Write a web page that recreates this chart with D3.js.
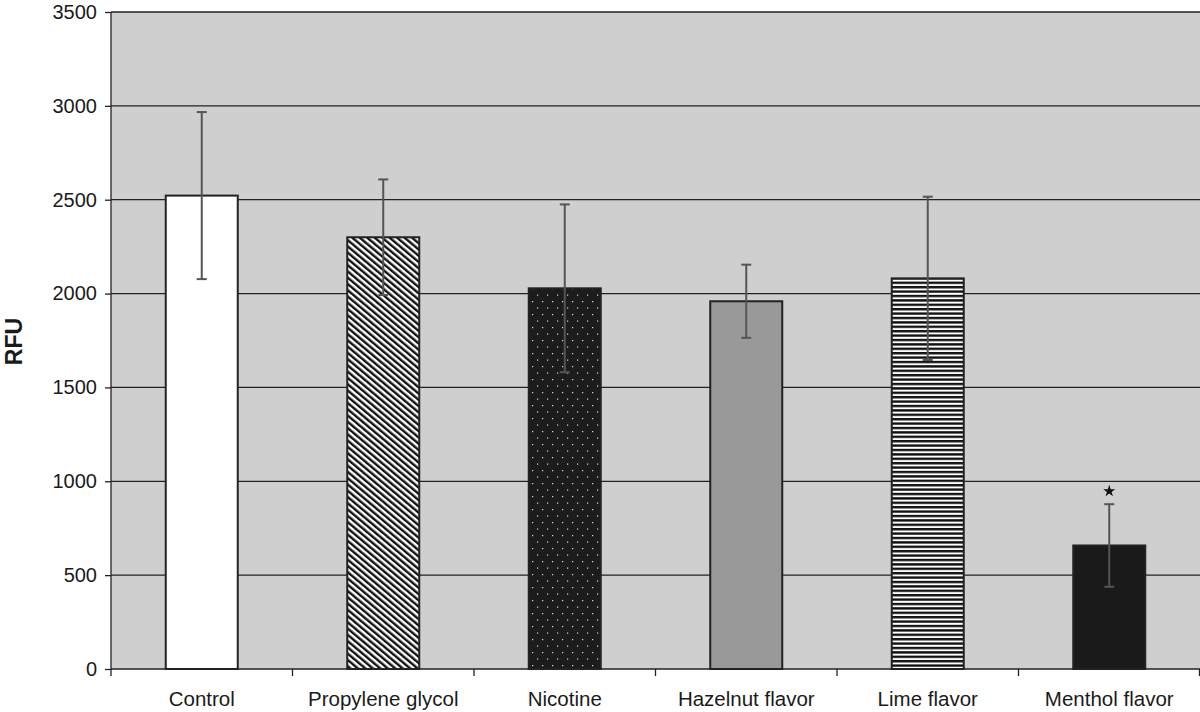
<!DOCTYPE html>
<html><head><meta charset="utf-8">
<script src="https://cdn.jsdelivr.net/npm/d3@7"></script>
<style>body{margin:0;background:#fff;}svg{display:block;font-family:"Liberation Sans",Arial,sans-serif;}</style>
</head><body>
<svg id="chart" width="1200" height="712"></svg>
<script>
const categories = ["Control","Propylene glycol","Nicotine","Hazelnut flavor","Lime flavor","Menthol flavor"];
const values = [2522, 2300, 2028, 1959, 2081, 658];
const errors = [445, 308, 447, 195, 435, 220];
const significant = [false,false,false,false,false,true];
const yTicks = [0,500,1000,1500,2000,2500,3000,3500];
const fills = ["#ffffff","url(#diag)","url(#dots)","#999999","url(#hstripe)","#1a1a1a"];

const svg = d3.select("#chart");
const m = {left:111, right:0, top:12, bottom:43};
const W = 1200, H = 712;
const x = d3.scaleBand().domain(categories).range([m.left, W - m.right]).paddingInner(0).paddingOuter(0);
const y = d3.scaleLinear().domain([0,3500]).range([H - m.bottom, m.top]);

const defs = svg.append("defs");
const pd = defs.append("pattern").attr("id","diag").attr("patternUnits","userSpaceOnUse")
  .attr("width",4.8).attr("height",10).attr("patternTransform","rotate(-50)");
pd.append("rect").attr("width",4.8).attr("height",10).attr("fill","#fff");
pd.append("rect").attr("width",2.4).attr("height",10).attr("fill","#111");
const pdots = defs.append("pattern").attr("id","dots").attr("patternUnits","userSpaceOnUse")
  .attr("width",10).attr("height",13);
pdots.append("rect").attr("width",10).attr("height",13).attr("fill","#1c1c1c");
pdots.append("rect").attr("x",2).attr("y",2).attr("width",1.2).attr("height",1.2).attr("fill","#ddd");
pdots.append("rect").attr("x",7).attr("y",8.5).attr("width",1.2).attr("height",1.2).attr("fill","#ddd");
const ph = defs.append("pattern").attr("id","hstripe").attr("patternUnits","userSpaceOnUse")
  .attr("width",10).attr("height",4.4);
ph.append("rect").attr("width",10).attr("height",4.4).attr("fill","#fff");
ph.append("rect").attr("width",10).attr("height",2.4).attr("fill","#111");

// plot background
svg.append("rect").attr("x",m.left).attr("y",y(3500)).attr("width",W-m.right-m.left)
  .attr("height",y(0)-y(3500)).attr("fill","#cfcfcf");

// gridlines
svg.append("g").selectAll("line").data(yTicks.filter(d=>d>0)).join("line")
  .attr("x1",m.left).attr("x2",W-m.right).attr("y1",d=>y(d)).attr("y2",d=>y(d))
  .attr("stroke","#222").attr("stroke-width",1.3);

// y axis
const ya = svg.append("g").attr("transform",`translate(${m.left},0)`)
  .call(d3.axisLeft(y).tickValues(yTicks).tickSize(6).tickPadding(8).tickFormat(d3.format("d")));
ya.attr("font-size",null).attr("font-family",null);
ya.select(".domain").attr("stroke","#222").attr("stroke-width",1.3).attr("d",`M-0,${y(3500)}V${y(0)}`);
ya.selectAll(".tick line").attr("stroke","#222").attr("stroke-width",1.3);
ya.selectAll("text").attr("font-size",20).attr("fill","#1a1a1a").attr("font-family","Liberation Sans, Arial, sans-serif");

// x axis
const xa = svg.append("g").attr("transform",`translate(0,${y(0)})`);
xa.append("line").attr("x1",m.left).attr("x2",W-m.right).attr("stroke","#222").attr("stroke-width",1.3);
xa.selectAll("line.tk").data(categories.map((c,i)=>i).concat([categories.length])).join("line").attr("class","tk")
  .attr("x1",i=>i<categories.length? x(categories[i]) : W-m.right-0.5)
  .attr("x2",i=>i<categories.length? x(categories[i]) : W-m.right-0.5)
  .attr("y1",0).attr("y2",7).attr("stroke","#222").attr("stroke-width",1.3);
xa.selectAll("text").data(categories).join("text")
  .attr("x",d=>x(d)+x.bandwidth()/2).attr("y",37).attr("text-anchor","middle")
  .attr("font-size",20.5).attr("fill","#1a1a1a").text(d=>d);

// bars
const bw = 72;
svg.append("g").selectAll("rect").data(categories).join("rect")
  .attr("x",d=>x(d)+x.bandwidth()/2-bw/2).attr("width",bw)
  .attr("y",(d,i)=>y(values[i])).attr("height",(d,i)=>y(0)-y(values[i]))
  .attr("fill",(d,i)=>fills[i]).attr("stroke","#222").attr("stroke-width",2);

// error bars
const eg = svg.append("g").attr("stroke","#555").attr("stroke-width",2);
categories.forEach((c,i)=>{
  const cx = x(c)+x.bandwidth()/2;
  const hi = y(values[i]+errors[i]), lo = y(values[i]-errors[i]);
  eg.append("line").attr("x1",cx).attr("x2",cx).attr("y1",hi).attr("y2",lo);
  eg.append("line").attr("x1",cx-5).attr("x2",cx+5).attr("y1",hi).attr("y2",hi);
  eg.append("line").attr("x1",cx-5).attr("x2",cx+5).attr("y1",lo).attr("y2",lo);
  if(significant[i]){
    svg.append("path").attr("d",d3.symbol(d3.symbolStar,45)())
      .attr("transform",`translate(${cx},${hi-13})`).attr("fill","#111");
  }
});

// y label
svg.append("text").attr("transform",`translate(22,${(y(0)+y(3500))/2+1}) rotate(-90)`)
  .attr("text-anchor","middle").attr("font-size",23).attr("font-weight","bold").attr("fill","#1a1a1a").text("RFU");
</script>
</body></html>
